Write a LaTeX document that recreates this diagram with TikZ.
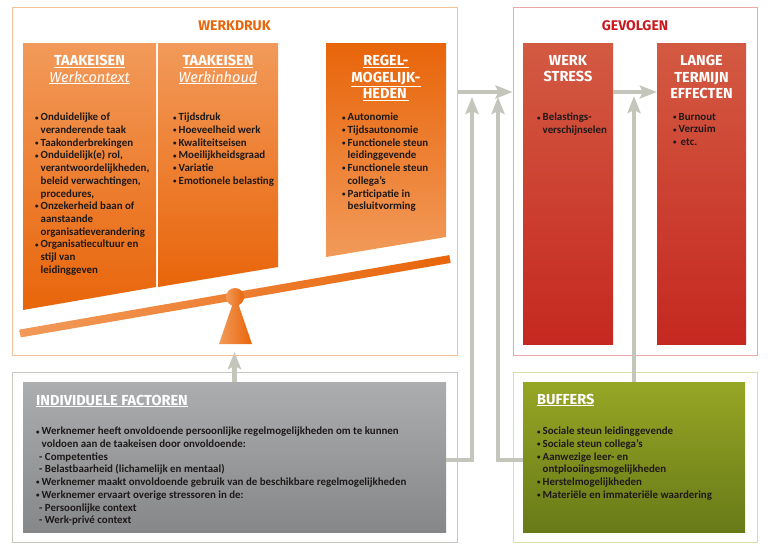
\documentclass[tikz,border=0pt]{standalone}
\usepackage{fontspec}
\setmainfont{Carlito}
\newfontfamily\kopfont{Fira Sans}
\usetikzlibrary{arrows.meta, positioning, calc}

\definecolor{oranjedonker}{RGB}{232,101,10}
\definecolor{oranjelicht}{RGB}{242,154,90}
\definecolor{oranjerand}{RGB}{246,192,150}
\definecolor{roodtop}{RGB}{211,90,66}
\definecolor{roodbodem}{RGB}{197,40,32}
\definecolor{roodrand}{RGB}{236,168,168}
\definecolor{roodtitel}{RGB}{200,25,30}
\definecolor{groentop}{RGB}{150,166,37}
\definecolor{groenbodem}{RGB}{104,122,24}
\definecolor{groenrand}{RGB}{214,224,166}
\definecolor{grijstop}{RGB}{172,173,175}
\definecolor{grijsbodem}{RGB}{134,135,137}
\definecolor{grijsrand}{RGB}{200,200,194}
\definecolor{pijlgrijs}{RGB}{196,197,187}
\definecolor{tekst}{RGB}{30,25,25}

\newcommand{\bul}{\makebox[5.5pt][l]{\raisebox{0.8pt}{\fontsize{7}{7}\selectfont\textbullet}}}
\newcommand{\insp}{\hspace*{5.5pt}}

\tikzset{
    kader/.style={draw=#1, line width=1pt, inner sep=0pt},
    titel/.style={font=\kopfont\fontsize{14}{17}\selectfont\bfseries, text=#1},
    kop/.style={font=\kopfont\fontsize{14.5}{16.5}\selectfont\bfseries, text=white, align=center, inner sep=0pt, anchor=north},
    lijst/.style={font=\fontsize{10.9}{12.7}\selectfont\bfseries, text=tekst, align=left, inner sep=0pt, anchor=north west},
    verbinding/.style={draw=pijlgrijs, line width=4.5pt},
    pijl/.style={verbinding, -{Stealth[length=17pt, width=13pt, inset=3pt]}},
}

\begin{document}
\begin{tikzpicture}[x=1pt, y=-1pt]
    \useasboundingbox (0,0) rectangle (770,550);
    \fill[white] (0,0) rectangle (770,550);

    % kaders
    \node[kader=oranjerand, minimum width=445pt, minimum height=348pt] (werkdruk) at (234.5,181) {};
    \node[kader=roodrand, minimum width=244pt, minimum height=348pt] (gevolgen) at (635,181) {};
    \node[kader=grijsrand, minimum width=445pt, minimum height=170pt] (individueel) at (234.5,457) {};
    \node[kader=groenrand, minimum width=244pt, minimum height=170pt] (buffers) at (635,457) {};

    % werkdruk
    \shade[top color=oranjelicht, bottom color=oranjedonker] (23,43) -- (156,43) -- (156,287) -- (23,310) -- cycle;
    \shade[top color=oranjelicht, bottom color=oranjedonker] (158,43) -- (278,43) -- (278,267) -- (158,287) -- cycle;
    \shade[top color=oranjedonker, bottom color=oranjelicht] (326,43) -- (446,43) -- (446,237) -- (326,257) -- cycle;

    % wip
    \shade[left color=oranjelicht, right color=oranjedonker] (19.3,329.6) -- (449.3,255.1) -- (450.7,262.9) -- (20.7,337.4) -- cycle;
    \shade[left color=oranjelicht, right color=oranjedonker] (233,303) -- (238,303) -- (252,344) -- (219,344) -- cycle;
    \shade[left color=oranjelicht, right color=oranjedonker] (235,297) circle (9);

    % gevolgen
    \node[top color=roodtop, bottom color=roodbodem, minimum width=90pt, minimum height=301pt, inner sep=0pt] (werkstress) at (568,193.5) {};
    \node[top color=roodtop, bottom color=roodbodem, minimum width=89pt, minimum height=301pt, inner sep=0pt] (lange) at (701.5,193.5) {};

    % onderste blokken
    \node[top color=grijstop, bottom color=grijsbodem, minimum width=423pt, minimum height=150pt, inner sep=0pt] (indbox) at (234.5,457) {};
    \node[top color=groentop, bottom color=groenbodem, minimum width=222pt, minimum height=150pt, inner sep=0pt] (bufbox) at (634,457) {};

    % verbindingen
    \coordinate (hoogte) at (0,92);
    \coordinate (laag) at (0,460);
    \coordinate (punt) at (0,96);
    \coordinate (voet) at (0,352);
    \coordinate (knik1) at (472,97);
    \coordinate (knik2) at (498,97);
    \draw[pijl] (werkdruk.east |- hoogte) -- (gevolgen.west |- hoogte);
    \draw[pijl] (werkstress.east |- hoogte) -- (lange.west |- hoogte);
    \draw[pijl] (indbox.east |- laag) -| (knik1);
    \draw[pijl] (bufbox.west |- laag) -| (knik2);
    \draw[pijl] (bufbox.north) -- (bufbox.north |- punt);
    \draw[pijl] (indbox.north) -- (indbox.north |- voet);

    % titels
    \node[titel=oranjedonker] (werkdruktitel) at (234.5,26) {WERKDRUK};
    \node[titel=roodtitel] (gevolgentitel) at (635,26) {GEVOLGEN};

    % koppen
    \node[kop] (kopcontext) at (89.5,55) {\underline{TAAKEISEN}\\\underline{\mdseries\itshape Werkcontext}};
    \node[kop] (kopinhoud) at (218,55) {\underline{TAAKEISEN}\\\underline{\mdseries\itshape Werkinhoud}};
    \node[kop] (kopregel) at (386,55) {\underline{REGEL-}\\\underline{MOGELIJK-}\\\underline{HEDEN\,}};
    \node[kop] (kopstress) at (568,55) {WERK\\STRESS};
    \node[kop] (koplange) at (701.5,55) {LANGE\\TERMIJN\\EFFECTEN};
    \node[kop, anchor=west] (kopind) at (36,401) {\underline{INDIVIDUELE FACTOREN}};
    \node[kop, anchor=west] (kopbuf) at (537,400) {\underline{BUFFERS}};

    % lijsten
    \node[lijst] (lijstcontext) at (35,113) {\bul Onduidelijke of\\
        \insp veranderende taak\\
        \bul Taakonderbrekingen\\
        \bul Onduidelijk(e) rol,\\
        \insp verantwoordelijkheden,\\
        \insp beleid verwachtingen,\\
        \insp procedures,\\
        \bul Onzekerheid baan of\\
        \insp aanstaande\\
        \insp organisatieverandering\\
        \bul Organisatiecultuur en\\
        \insp stijl van\\
        \insp leidinggeven};
    \node[lijst] (lijstinhoud) at (173,113) {\bul Tijdsdruk\\
        \bul Hoeveelheid werk\\
        \bul Kwaliteitseisen\\
        \bul Moeilijkheidsgraad\\
        \bul Variatie\\
        \bul Emotionele belasting};
    \node[lijst] (lijstregel) at (342,113) {\bul Autonomie\\
        \bul Tijdsautonomie\\
        \bul Functionele steun\\
        \insp leidinggevende\\
        \bul Functionele steun\\
        \insp collega’s\\
        \bul Participatie in\\
        \insp besluitvorming};
    \node[lijst] (lijststress) at (537,113) {\bul Belastings-\\
        \insp verschijnselen};
    \node[lijst] (lijstlange) at (673,113) {\bul Burnout\\
        \bul Verzuim\\
        \bul\hspace{2pt}etc.};
    \node[lijst] (lijstind) at (36,427) {\bul Werknemer heeft onvoldoende persoonlijke regelmogelijkheden om te kunnen\\
        \insp voldoen aan de taakeisen door onvoldoende:\\
        \hspace*{3pt}- Competenties\\
        \hspace*{3pt}- Belastbaarheid (lichamelijk en mentaal)\\
        \bul Werknemer maakt onvoldoende gebruik van de beschikbare regelmogelijkheden\\
        \bul Werknemer ervaart overige stressoren in de:\\
        \hspace*{3pt}- Persoonlijke context\\
        \hspace*{3pt}- Werk-privé context};
    \node[lijst] (lijstbuf) at (537,427) {\bul Sociale steun leidinggevende\\
        \bul Sociale steun collega's\\
        \bul Aanwezige leer- en\\
        \insp ontplooiingsmogelijkheden\\
        \bul Herstelmogelijkheden\\
        \bul Materiële en immateriële waardering};
\end{tikzpicture}
\end{document}
